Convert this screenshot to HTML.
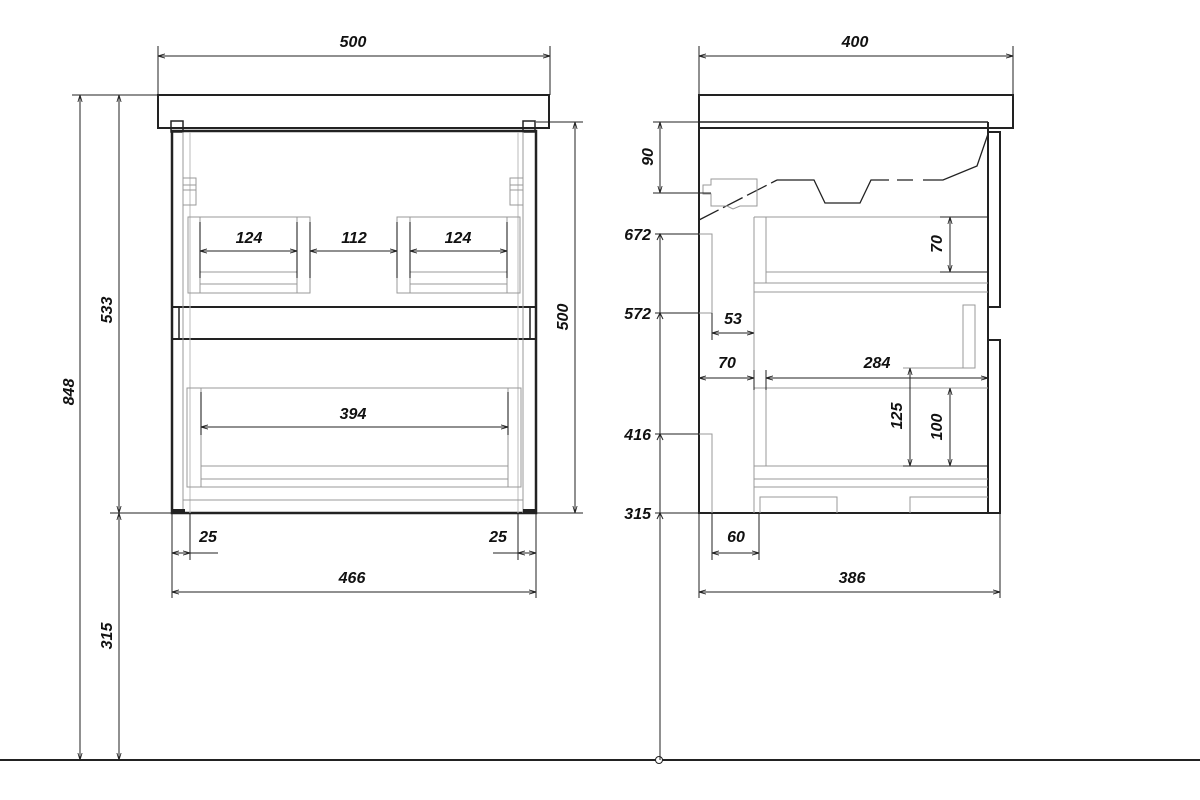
<!DOCTYPE html>
<html><head><meta charset="utf-8"><style>
html,body{margin:0;padding:0;background:#fff;}
svg{display:block;}
text{font-family:"Liberation Sans",sans-serif;font-weight:bold;font-style:italic;font-size:16px;fill:#111;}
</style></head><body>
<svg width="1200" height="800" viewBox="0 0 1200 800" xmlns="http://www.w3.org/2000/svg">
<defs>
<marker id="a" viewBox="0 0 10 10" refX="10" refY="5" markerWidth="7" markerHeight="7" orient="auto-start-reverse"><path d="M0,2 L10,5 L0,8" fill="none" stroke="#222" stroke-width="1.2"/></marker>
</defs>
<g fill="none" stroke="#222" stroke-width="1">
<line x1="0" y1="760" x2="1200" y2="760" stroke-width="2"/>
<circle cx="659" cy="760" r="3.5" fill="#fff" stroke="#222"/>

<!-- LEFT VIEW -->
<line x1="158" y1="46" x2="158" y2="95"/><line x1="550" y1="46" x2="550" y2="95"/>
<line x1="158" y1="56" x2="550" y2="56" marker-start="url(#a)" marker-end="url(#a)"/>
<rect x="158" y="95" width="391" height="33" stroke-width="2"/>
<rect x="172" y="131" width="364" height="382" stroke-width="2.5"/>
<line x1="172" y1="128" x2="536" y2="128" stroke-width="1.5"/>
<rect x="171" y="121" width="12" height="11" stroke-width="1.5"/>
<rect x="523" y="121" width="12" height="11" stroke-width="1.5"/>
<line x1="172" y1="307" x2="536" y2="307" stroke-width="2"/>
<line x1="172" y1="339" x2="536" y2="339" stroke-width="2"/>
<line x1="179" y1="307" x2="179" y2="339" stroke-width="1.5"/>
<line x1="530" y1="307" x2="530" y2="339" stroke-width="1.5"/>
<g stroke="#999">
<line x1="183" y1="132" x2="183" y2="513"/><line x1="523" y1="132" x2="523" y2="513"/>
<line x1="190" y1="132" x2="190" y2="513" stroke="#bbb"/><line x1="518" y1="132" x2="518" y2="513" stroke="#bbb"/>
<rect x="183" y="178" width="13" height="27"/><rect x="510" y="178" width="13" height="27"/>
<line x1="183" y1="185" x2="196" y2="185"/><line x1="183" y1="190" x2="196" y2="190"/>
<line x1="510" y1="185" x2="523" y2="185"/><line x1="510" y1="190" x2="523" y2="190"/>
<rect x="188" y="217" width="122" height="76"/><rect x="397" y="217" width="123" height="76"/>
<line x1="200" y1="217" x2="200" y2="293"/><line x1="297" y1="217" x2="297" y2="293"/>
<line x1="410" y1="217" x2="410" y2="293"/><line x1="507" y1="217" x2="507" y2="293"/>
<line x1="200" y1="272" x2="297" y2="272"/><line x1="200" y1="284" x2="297" y2="284"/>
<line x1="410" y1="272" x2="507" y2="272"/><line x1="410" y1="284" x2="507" y2="284"/>
<rect x="187" y="388" width="334" height="99"/>
<line x1="201" y1="388" x2="201" y2="487"/><line x1="508" y1="388" x2="508" y2="487"/>
<line x1="201" y1="466" x2="508" y2="466"/><line x1="201" y1="479" x2="508" y2="479"/>
<line x1="183" y1="500" x2="523" y2="500"/>
</g>
<rect x="173" y="509" width="12" height="4" fill="#222" stroke="none"/>
<rect x="523" y="509" width="12" height="4" fill="#222" stroke="none"/>
<g stroke="#111">
<line x1="200" y1="222" x2="200" y2="278"/><line x1="297" y1="222" x2="297" y2="278"/>
<line x1="310" y1="222" x2="310" y2="278"/><line x1="397" y1="222" x2="397" y2="278"/>
<line x1="410" y1="222" x2="410" y2="278"/><line x1="507" y1="222" x2="507" y2="278"/>
<line x1="201" y1="392" x2="201" y2="435"/><line x1="508" y1="392" x2="508" y2="435"/>
</g>
<line x1="200" y1="251" x2="297" y2="251" marker-start="url(#a)" marker-end="url(#a)"/>
<line x1="310" y1="251" x2="397" y2="251" marker-start="url(#a)" marker-end="url(#a)"/>
<line x1="410" y1="251" x2="507" y2="251" marker-start="url(#a)" marker-end="url(#a)"/>
<line x1="201" y1="427" x2="508" y2="427" marker-start="url(#a)" marker-end="url(#a)"/>
<line x1="72" y1="95" x2="158" y2="95"/><line x1="110" y1="513" x2="172" y2="513"/>
<line x1="80" y1="95" x2="80" y2="760" marker-start="url(#a)" marker-end="url(#a)"/>
<line x1="119" y1="95" x2="119" y2="513" marker-start="url(#a)" marker-end="url(#a)"/>
<line x1="119" y1="513" x2="119" y2="760" marker-start="url(#a)" marker-end="url(#a)"/>
<line x1="536" y1="122" x2="583" y2="122"/><line x1="536" y1="513" x2="583" y2="513"/>
<line x1="575" y1="122" x2="575" y2="513" marker-start="url(#a)" marker-end="url(#a)"/>
<line x1="172" y1="513" x2="172" y2="598"/><line x1="536" y1="513" x2="536" y2="598"/>
<line x1="190" y1="513" x2="190" y2="560"/><line x1="518" y1="513" x2="518" y2="560"/>
<line x1="172" y1="553" x2="190" y2="553" marker-start="url(#a)" marker-end="url(#a)"/>
<line x1="190" y1="553" x2="218" y2="553"/>
<line x1="518" y1="553" x2="536" y2="553" marker-start="url(#a)" marker-end="url(#a)"/>
<line x1="493" y1="553" x2="518" y2="553"/>
<line x1="172" y1="592" x2="536" y2="592" marker-start="url(#a)" marker-end="url(#a)"/>

<!-- RIGHT VIEW -->
<line x1="699" y1="46" x2="699" y2="95"/><line x1="1013" y1="46" x2="1013" y2="95"/>
<line x1="699" y1="56" x2="1013" y2="56" marker-start="url(#a)" marker-end="url(#a)"/>
<rect x="699" y="95" width="314" height="33" stroke-width="2"/>
<line x1="699" y1="122" x2="988" y2="122" stroke-width="1.5"/>
<path d="M699 122 V513 H988 V122" stroke-width="2"/>
<line x1="699" y1="128" x2="988" y2="128" stroke-width="2"/>
<path d="M988 132 H1000 V307 H988" stroke-width="2"/>
<path d="M988 340 H1000 V513 H988" stroke-width="2"/>
<!-- sink profile -->
<path d="M699 220 L777 180" stroke-width="1.3" stroke-dasharray="22 5"/>
<path d="M777 180 L814 180 L825 203 L860 203 L871 180 L889 180" stroke-width="1.3"/>
<path d="M897 180 H913 M923 180 H943 L977 166 L988 134" stroke-width="1.3"/>
<g stroke="#999">
<path d="M711 179 H757 V206 H740 L733 209 L727 206 H711 V194 H703 V185 H711 Z"/>
<line x1="754" y1="217" x2="988" y2="217"/><line x1="754" y1="217" x2="754" y2="513"/>
<line x1="766" y1="217" x2="766" y2="283"/>
<line x1="766" y1="272" x2="988" y2="272"/><line x1="754" y1="283" x2="988" y2="283"/>
<line x1="754" y1="292" x2="988" y2="292"/>
<rect x="963" y="305" width="12" height="63"/><line x1="903" y1="368" x2="975" y2="368"/>
<line x1="754" y1="388" x2="988" y2="388"/><line x1="766" y1="388" x2="766" y2="466"/>
<line x1="754" y1="466" x2="988" y2="466"/><line x1="754" y1="479" x2="988" y2="479"/>
<line x1="754" y1="487" x2="988" y2="487"/>
<path d="M760 513 V497 H837 V513"/><path d="M910 513 V497 H988"/>
<path d="M699 234 H712 V313 H699"/><path d="M699 434 H712 V513"/>
</g>
<line x1="653" y1="122" x2="699" y2="122"/><line x1="653" y1="193" x2="711" y2="193"/>
<line x1="660" y1="122" x2="660" y2="193" marker-start="url(#a)" marker-end="url(#a)"/>
<line x1="655" y1="234" x2="699" y2="234"/><line x1="655" y1="313" x2="699" y2="313"/>
<line x1="655" y1="434" x2="699" y2="434"/><line x1="655" y1="513" x2="699" y2="513"/>
<line x1="660" y1="234" x2="660" y2="760"/>
<path d="M657 240 L660 234 L663 240 M657 319 L660 313 L663 319 M657 440 L660 434 L663 440 M657 519 L660 513 L663 519"/>
<line x1="712" y1="313" x2="712" y2="340"/>
<line x1="712" y1="333" x2="754" y2="333" marker-start="url(#a)" marker-end="url(#a)"/>
<line x1="754" y1="370" x2="754" y2="390"/><line x1="766" y1="370" x2="766" y2="390"/>
<line x1="699" y1="378" x2="754" y2="378" marker-start="url(#a)" marker-end="url(#a)"/>
<line x1="766" y1="378" x2="988" y2="378" marker-start="url(#a)" marker-end="url(#a)"/>
<line x1="940" y1="217" x2="988" y2="217"/><line x1="940" y1="272" x2="988" y2="272"/>
<line x1="950" y1="217" x2="950" y2="272" marker-start="url(#a)" marker-end="url(#a)"/>
<line x1="903" y1="466" x2="988" y2="466"/>
<line x1="910" y1="368" x2="910" y2="466" marker-start="url(#a)" marker-end="url(#a)"/>
<line x1="950" y1="388" x2="950" y2="466" marker-start="url(#a)" marker-end="url(#a)"/>
<line x1="712" y1="513" x2="712" y2="560"/><line x1="759" y1="513" x2="759" y2="560"/>
<line x1="712" y1="553" x2="759" y2="553" marker-start="url(#a)" marker-end="url(#a)"/>
<line x1="699" y1="513" x2="699" y2="598"/><line x1="1000" y1="513" x2="1000" y2="598"/>
<line x1="699" y1="592" x2="1000" y2="592" marker-start="url(#a)" marker-end="url(#a)"/>
</g>
<g text-anchor="middle">
<text x="353" y="47">500</text>
<text x="855" y="47">400</text>
<text x="249" y="243">124</text>
<text x="354" y="243">112</text>
<text x="458" y="243">124</text>
<text x="353" y="419">394</text>
<text x="208" y="542">25</text>
<text x="498" y="542">25</text>
<text x="352" y="583">466</text>
<text x="736" y="542">60</text>
<text x="852" y="583">386</text>
<text x="733" y="324">53</text>
<text x="727" y="368">70</text>
<text x="877" y="368">284</text>
<text transform="translate(74,392) rotate(-90)">848</text>
<text transform="translate(112,310) rotate(-90)">533</text>
<text transform="translate(112,636) rotate(-90)">315</text>
<text transform="translate(568,317) rotate(-90)">500</text>
<text transform="translate(653,157) rotate(-90)">90</text>
<text transform="translate(942,244) rotate(-90)">70</text>
<text transform="translate(902,416) rotate(-90)">125</text>
<text transform="translate(942,427) rotate(-90)">100</text>
</g>
<g text-anchor="end">
<text x="651" y="240">672</text>
<text x="651" y="319">572</text>
<text x="651" y="440">416</text>
<text x="651" y="519">315</text>
</g>
</svg>
</body></html>
